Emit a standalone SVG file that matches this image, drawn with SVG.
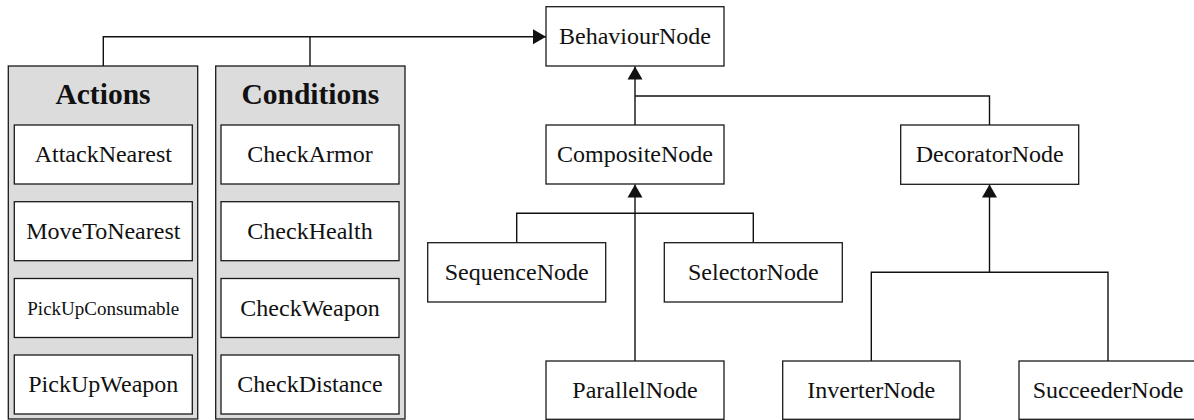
<svg xmlns="http://www.w3.org/2000/svg" width="1194" height="420" viewBox="0 0 1194 420">
<style>
  .box{fill:#ffffff;stroke:#1a1a1a;stroke-width:1.3}
  .cont{fill:#dcdcdc;stroke:#1a1a1a;stroke-width:1.3}
  .lbl{font-family:"Liberation Serif","Times New Roman",serif;font-size:24px;fill:#111;text-anchor:middle}
  .small{font-size:19px}
  .title{font-family:"Liberation Serif","Times New Roman",serif;font-size:29.5px;font-weight:bold;fill:#111;text-anchor:middle}
  .conn{fill:none;stroke:#111;stroke-width:1.4}
</style>
<defs>
  <marker id="arr" markerUnits="userSpaceOnUse" markerWidth="14" markerHeight="16" refX="13" refY="8" orient="auto">
    <path d="M0,0.5 L13,8 L0,15.5 Z" fill="#111"/>
  </marker>
</defs>
<rect width="1194" height="420" fill="#ffffff"/>

<g id="connectors">
  <path class="conn" d="M103.3,66 V36.7 H546" marker-end="url(#arr)"/>
  <path class="conn" d="M310,66 V36.7"/>
  <path class="conn" d="M635,125 V66.5" marker-end="url(#arr)"/>
  <path class="conn" d="M635,96 H989.5 V125"/>
  <path class="conn" d="M635,361 V184.5" marker-end="url(#arr)"/>
  <path class="conn" d="M516.7,242.7 V213.3 H753.3 V242.7"/>
  <path class="conn" d="M989.5,272.3 V184.5" marker-end="url(#arr)"/>
  <path class="conn" d="M871.3,361 V272.3 H1108 V361"/>
</g>

<g id="actions">
  <rect class="cont" x="8.3" y="66" width="189.4" height="353"/>
  <text class="title" x="103" y="104">Actions</text>
  <g id="attack-nearest">
    <rect class="box" x="14.3" y="125" width="178" height="59"/>
    <text class="lbl" x="103.3" y="162">AttackNearest</text>
  </g>
  <g id="move-to-nearest">
    <rect class="box" x="14.3" y="201.7" width="178" height="59"/>
    <text class="lbl" x="103.3" y="238.7">MoveToNearest</text>
  </g>
  <g id="pick-up-consumable">
    <rect class="box" x="14.3" y="278.5" width="178" height="59"/>
    <text class="lbl small" x="103.3" y="314.5">PickUpConsumable</text>
  </g>
  <g id="pick-up-weapon">
    <rect class="box" x="14.3" y="355" width="178" height="59"/>
    <text class="lbl" x="103.3" y="392">PickUpWeapon</text>
  </g>
</g>

<g id="conditions">
  <rect class="cont" x="215.7" y="66" width="189.3" height="353"/>
  <text class="title" x="310.3" y="104">Conditions</text>
  <g id="check-armor">
    <rect class="box" x="221" y="125" width="178" height="59"/>
    <text class="lbl" x="310" y="162">CheckArmor</text>
  </g>
  <g id="check-health">
    <rect class="box" x="221" y="201.7" width="178" height="59"/>
    <text class="lbl" x="310" y="238.7">CheckHealth</text>
  </g>
  <g id="check-weapon">
    <rect class="box" x="221" y="278.5" width="178" height="59"/>
    <text class="lbl" x="310" y="315.5">CheckWeapon</text>
  </g>
  <g id="check-distance">
    <rect class="box" x="221" y="355" width="178" height="59"/>
    <text class="lbl" x="310" y="392">CheckDistance</text>
  </g>
</g>

<g id="behaviour-node">
  <rect class="box" x="546" y="6.7" width="178" height="59.3"/>
  <text class="lbl" x="635" y="43.8">BehaviourNode</text>
</g>
<g id="composite-node">
  <rect class="box" x="546" y="125" width="178" height="59"/>
  <text class="lbl" x="635" y="162">CompositeNode</text>
</g>
<g id="decorator-node">
  <rect class="box" x="900.7" y="125" width="178" height="59.3"/>
  <text class="lbl" x="989.7" y="162">DecoratorNode</text>
</g>
<g id="sequence-node">
  <rect class="box" x="427.7" y="242.7" width="178" height="59.3"/>
  <text class="lbl" x="516.7" y="279.8">SequenceNode</text>
</g>
<g id="selector-node">
  <rect class="box" x="664.3" y="242.7" width="178" height="59.3"/>
  <text class="lbl" x="753.3" y="279.8">SelectorNode</text>
</g>
<g id="parallel-node">
  <rect class="box" x="546" y="361" width="178" height="58.3"/>
  <text class="lbl" x="635" y="398">ParallelNode</text>
</g>
<g id="inverter-node">
  <rect class="box" x="782.7" y="361" width="177.3" height="58.3"/>
  <text class="lbl" x="871.3" y="398">InverterNode</text>
</g>
<g id="succeeder-node">
  <rect class="box" x="1019" y="361" width="178" height="58.3"/>
  <text class="lbl" x="1108" y="398">SucceederNode</text>
</g>
</svg>
